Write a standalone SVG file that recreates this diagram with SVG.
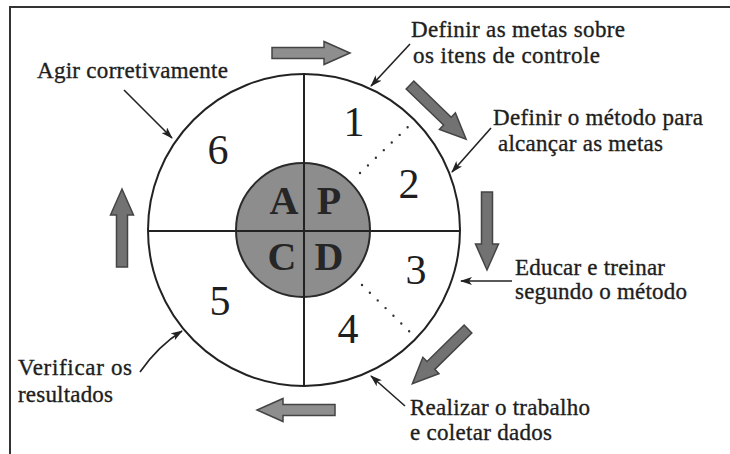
<svg xmlns="http://www.w3.org/2000/svg" width="730" height="454" viewBox="0 0 730 454">
<style>
.lbl{font-family:"Liberation Serif","Times New Roman",serif;font-size:23px;fill:#1e1e1e;stroke:#1e1e1e;stroke-width:0.35}
.num{font-family:"Liberation Serif","Times New Roman",serif;font-size:42px;fill:#1e1e1e;text-anchor:middle}
.core{font-family:"Liberation Serif","Times New Roman",serif;font-size:40px;font-weight:bold;fill:#262626;text-anchor:middle}
.ln{stroke:#222;stroke-width:2;fill:none}
.ptr{stroke:#222;stroke-width:1.6;fill:none;marker-end:url(#ah)}
.dot{stroke:#333;stroke-width:2.4;stroke-linecap:round;stroke-dasharray:0 11;fill:none}
.blk{stroke:#444;stroke-width:1.5}
.lt{fill:#8e8e8e}
.dk{fill:#727272}
</style>
<defs>
<marker id="ah" markerWidth="12" markerHeight="8" refX="11" refY="4" orient="auto" markerUnits="userSpaceOnUse">
<path d="M0,0 L12,4 L0,8 L3,4 Z" fill="#222"/>
</marker>
<path id="blkarrow" d="M0,-5.5 H52 V-11.5 L78,0 L52,11.5 V5.5 H0 Z"/>
</defs>
<rect width="730" height="454" fill="#fff"/>
<path d="M10,454 V7 H730" stroke="#333" stroke-width="2" fill="none"/>

<g id="cycle">
<circle cx="304" cy="230" r="156" fill="#fff" stroke="#222" stroke-width="2"/>
<line class="ln" x1="148" y1="231" x2="460" y2="231"/>
<line class="ln" x1="304" y1="74" x2="304" y2="386"/>
</g>

<g id="core">
<circle cx="303" cy="230" r="67" fill="#8d8d8d" stroke="#2a2a2a" stroke-width="2"/>
<line class="ln" x1="236" y1="231" x2="370" y2="231"/>
<line class="ln" x1="304" y1="163" x2="304" y2="297"/>
<text class="core" x="284" y="214">A</text>
<text class="core" x="329" y="214">P</text>
<text class="core" x="282" y="270">C</text>
<text class="core" x="329" y="270">D</text>
</g>

<g id="step1"><text class="num" x="354" y="136">1</text></g>
<g id="step2"><text class="num" x="409" y="198">2</text></g>
<g id="step3"><text class="num" x="416" y="284">3</text></g>
<g id="step4"><text class="num" x="348" y="343">4</text></g>
<g id="step5"><text class="num" x="220" y="315">5</text></g>
<g id="step6"><text class="num" x="218" y="164">6</text></g>

<g id="label-agir"><text class="lbl" x="37" y="78" textLength="191" lengthAdjust="spacing">Agir corretivamente</text></g>
<g id="label-metas">
<text class="lbl" x="411" y="37" textLength="214" lengthAdjust="spacing">Definir as metas sobre</text>
<text class="lbl" x="413" y="63" textLength="187" lengthAdjust="spacing">os itens de controle</text>
</g>
<g id="label-metodo">
<text class="lbl" x="493" y="125" textLength="210" lengthAdjust="spacing">Definir o método para</text>
<text class="lbl" x="498" y="151" textLength="165" lengthAdjust="spacing">alcançar as metas</text>
</g>
<g id="label-educar">
<text class="lbl" x="515" y="275" textLength="150" lengthAdjust="spacing">Educar e treinar</text>
<text class="lbl" x="515" y="299" textLength="172" lengthAdjust="spacing">segundo o método</text>
</g>
<g id="label-realizar">
<text class="lbl" x="410" y="415" textLength="180" lengthAdjust="spacing">Realizar o trabalho</text>
<text class="lbl" x="410" y="440" textLength="142" lengthAdjust="spacing">e coletar dados</text>
</g>
<g id="label-verificar">
<text class="lbl" x="18" y="375" textLength="114" lengthAdjust="spacing">Verificar os</text>
<text class="lbl" x="18" y="402" textLength="95" lengthAdjust="spacing">resultados</text>
</g>

<g id="connectors">
<line class="dot" x1="360" y1="173" x2="410" y2="125"/>
<line class="dot" x1="362" y1="285" x2="410" y2="332"/>
<line class="ptr" x1="124" y1="90" x2="172" y2="138"/>
<line class="ptr" x1="410" y1="44" x2="371" y2="86"/>
<line class="ptr" x1="491" y1="128" x2="452" y2="172"/>
<line class="ptr" x1="512" y1="281" x2="461" y2="281"/>
<line class="ptr" x1="405" y1="406" x2="371" y2="376"/>
<path class="ptr" d="M140,372 Q158,346 182,331"/>
<use href="#blkarrow" class="blk lt" transform="translate(272,53)"/>
<use href="#blkarrow" class="blk dk" transform="translate(410,85) rotate(44)"/>
<use href="#blkarrow" class="blk dk" transform="translate(487,192) rotate(90)"/>
<use href="#blkarrow" class="blk dk" transform="translate(468,329) rotate(135.5)"/>
<use href="#blkarrow" class="blk lt" transform="translate(335,410) rotate(180)"/>
<use href="#blkarrow" class="blk dk" transform="translate(122,267) rotate(-90)"/>
</g>
</svg>
